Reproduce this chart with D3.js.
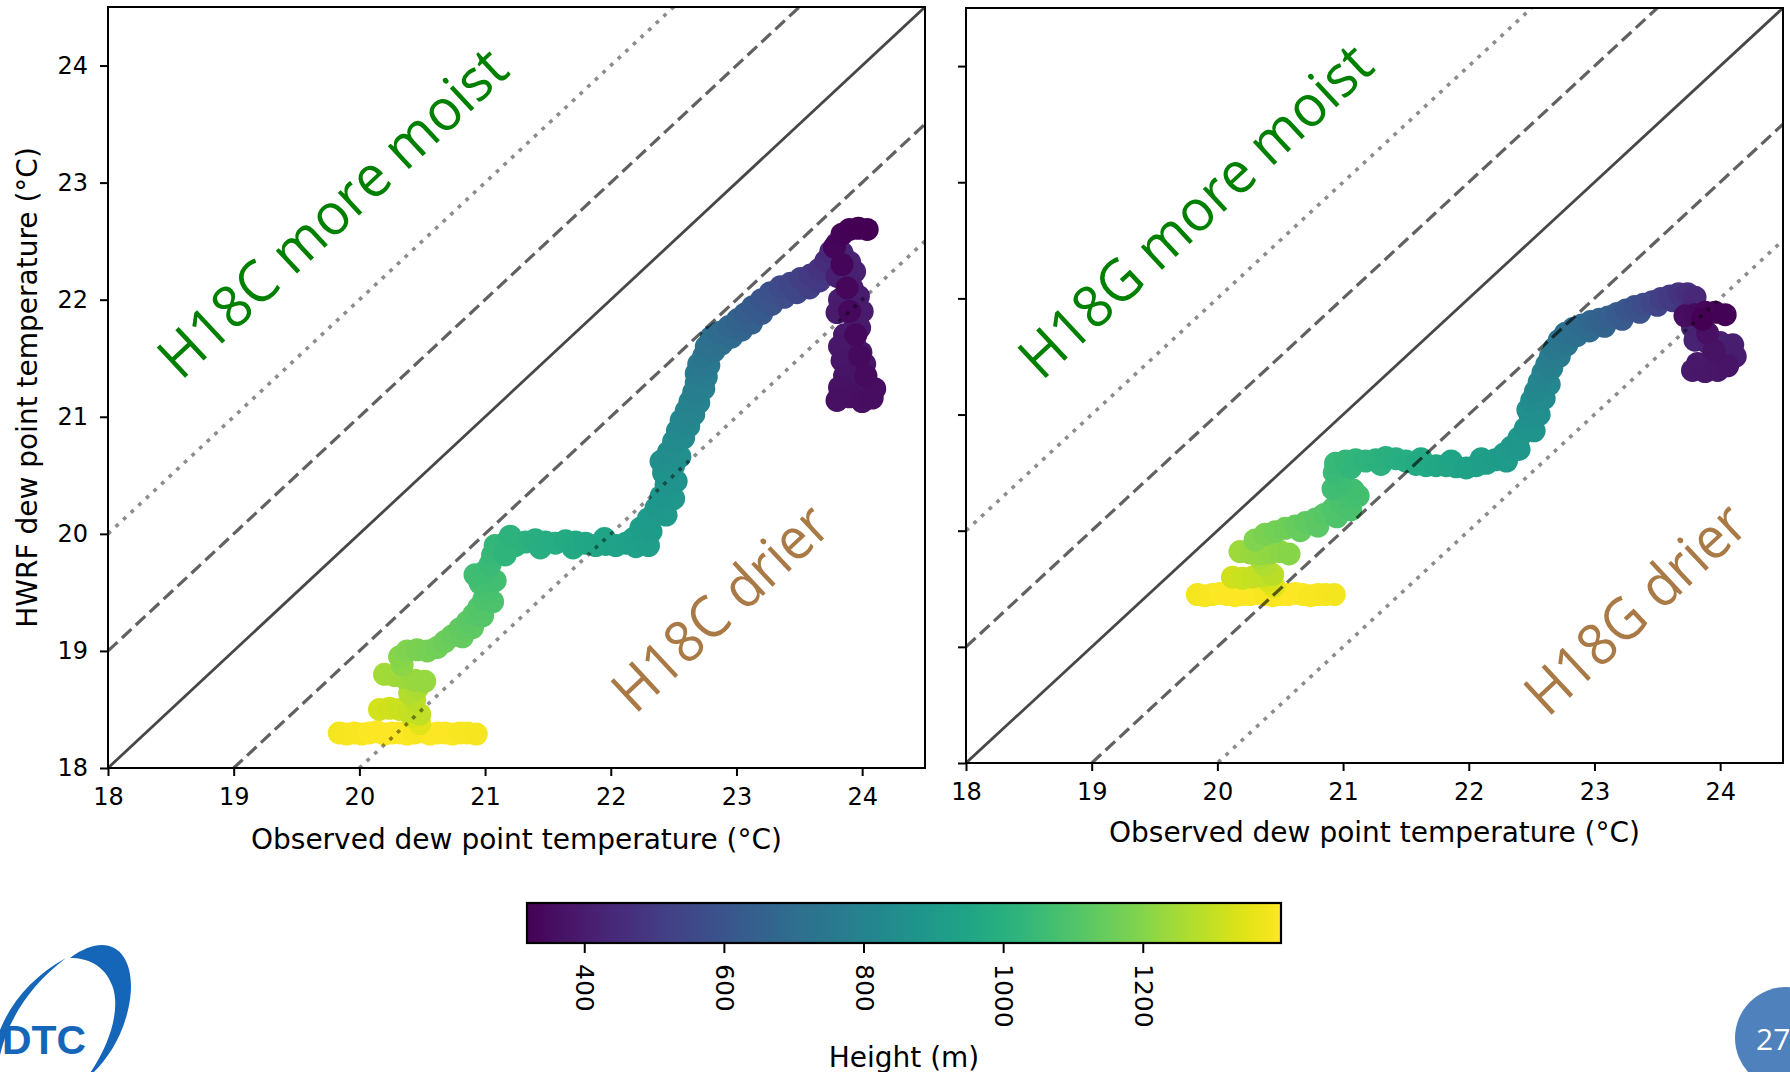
<!DOCTYPE html>
<html><head><meta charset="utf-8">
<script src="https://cdn.jsdelivr.net/npm/d3@7"></script>
<style>body{margin:0;background:#fff;overflow:hidden}</style>
</head><body>
<svg id="c" width="1790" height="1072"></svg>
<script>
// ---------- data ----------
const axisTicks = [18, 19, 20, 21, 22, 23, 24];
const axisDomain = [18, 24.5];
const heightTicks = [400, 600, 800, 1000, 1200];
const heightDomain = [318, 1398];
const refOffsets = [0, -1, 1, -2, 2];   // y = x + offset reference lines
const panelTitles = ["H18C", "H18G"];

// [observed Td, HWRF Td, height (m)] — H18C
const h18cPoints = [
 [19.84,18.30,1380],[19.90,18.29,1384],[19.96,18.30,1386],[20.02,18.29,1389],[20.08,18.30,1391],
 [20.14,18.31,1393],[20.20,18.29,1396],[20.26,18.30,1398],[20.32,18.30,1395],[20.38,18.29,1392],
 [20.44,18.30,1388],[20.50,18.31,1385],[20.56,18.29,1390],[20.62,18.30,1393],[20.68,18.30,1395],
 [20.74,18.29,1392],[20.80,18.30,1389],[20.86,18.30,1386],[20.93,18.29,1383],
 [20.48,18.38,1350],[20.42,18.44,1335],[20.16,18.50,1325],[20.24,18.51,1318],[20.32,18.50,1310],
 [20.40,18.48,1302],[20.48,18.46,1296],[20.44,18.58,1285],[20.40,18.64,1272],[20.46,18.68,1262],
 [20.20,18.80,1250],[20.28,18.79,1244],[20.36,18.77,1238],[20.44,18.75,1232],[20.52,18.74,1226],
 [20.34,18.88,1212],[20.32,18.95,1200],[20.38,19.00,1190],[20.46,19.01,1180],[20.54,19.00,1172],
 [20.62,19.03,1164],[20.68,19.08,1155],[20.74,19.13,1146],[20.82,19.12,1140],[20.80,19.19,1136],
 [20.90,19.20,1128],[20.86,19.25,1125],[20.91,19.31,1114],[20.98,19.30,1110],[20.95,19.37,1104],
 [20.99,19.44,1094],[21.06,19.42,1092],[21.02,19.51,1084],[20.96,19.58,1076],[21.08,19.60,1070],
 [20.92,19.65,1068],[21.00,19.68,1060],[21.04,19.74,1052],[21.06,19.82,1043],[21.08,19.90,1034],
 [21.16,19.92,1025],[21.24,19.90,1016],[21.16,19.82,1020],[21.20,19.98,1012],[21.32,19.93,1008],
 [21.40,19.95,1000],[21.44,19.88,996],[21.48,19.93,992],[21.56,19.92,985],[21.64,19.94,978],
 [21.70,19.88,972],[21.72,19.93,970],[21.80,19.92,963],[21.88,19.90,955],[21.95,19.96,950],
 [21.96,19.91,948],[22.04,19.90,940],[22.12,19.92,933],[22.18,19.96,928],[22.20,19.89,926],
 [22.26,19.96,920],[22.30,19.90,918],[22.24,20.05,915],[22.32,20.02,912],[22.30,20.13,905],
 [22.44,20.16,900],[22.36,20.22,895],[22.50,20.30,888],[22.40,20.32,885],[22.44,20.42,875],
 [22.52,20.45,872],[22.42,20.52,865],[22.50,20.58,860],[22.40,20.62,855],[22.55,20.66,850],
 [22.46,20.70,845],[22.50,20.79,835],[22.58,20.82,830],[22.53,20.88,825],[22.62,20.92,818],
 [22.56,20.97,815],[22.66,21.02,808],[22.60,21.05,805],[22.63,21.13,795],[22.70,21.12,796],
 [22.66,21.21,782],[22.74,21.24,780],[22.68,21.29,770],[22.76,21.34,765],[22.68,21.37,758],
 [22.78,21.44,750],[22.70,21.45,745],[22.74,21.52,732],[22.82,21.56,725],[22.76,21.60,718],
 [22.88,21.62,710],[22.80,21.68,704],[22.96,21.68,690],[22.86,21.72,690],[22.94,21.77,672],
 [23.04,21.74,668],[23.01,21.83,655],[23.12,21.80,645],[23.07,21.88,638],[23.13,21.94,620],
 [23.20,21.88,620],[23.20,22.00,600],[23.28,21.96,598],[23.27,22.06,580],[23.38,22.02,572],
 [23.35,22.11,560],[23.48,22.06,548],[23.43,22.14,540],[23.58,22.10,520],[23.51,22.18,518],
 [23.59,22.21,497],[23.66,22.16,492],[23.66,22.26,475],[23.71,22.33,455],[23.75,22.41,438],
 [23.80,22.48,428],[23.84,22.40,424],[23.90,22.32,420],[23.94,22.24,416],[23.80,22.20,414],
 [23.88,22.17,412],[23.92,22.10,408],[23.97,22.03,404],[23.82,22.00,402],[23.90,21.96,400],
 [23.80,21.89,397],[24.00,21.90,396],[23.94,21.83,394],[23.98,21.76,391],[23.86,21.70,388],
 [23.94,21.62,385],[23.82,21.60,384],[23.99,21.55,382],[23.84,21.48,379],[24.02,21.45,378],
 [23.96,21.41,376],[23.86,21.35,373],[23.96,21.28,370],[23.82,21.25,368],[24.02,21.22,367],
 [23.90,21.17,364],[23.80,21.14,361],[24.00,21.13,358],[24.08,21.16,355],[24.10,21.24,352],
 [24.03,21.35,349],[23.98,21.52,346],[23.95,21.70,343],[23.90,21.90,340],[23.88,22.10,337],
 [23.84,22.30,334],[23.78,22.45,331],[23.84,22.56,328],[23.90,22.60,325],[23.97,22.61,322],
 [24.04,22.60,320]
];

// [observed Td, HWRF Td, height (m)] — H18G
const h18gPoints = [
 [19.84,19.45,1380],[19.90,19.44,1384],[19.96,19.45,1387],[20.02,19.46,1390],[20.08,19.45,1393],
 [20.14,19.44,1396],[20.20,19.45,1398],[20.26,19.45,1395],[20.32,19.46,1392],[20.38,19.45,1389],
 [20.44,19.44,1386],[20.50,19.45,1390],[20.56,19.45,1393],[20.62,19.46,1395],[20.68,19.45,1392],
 [20.74,19.44,1389],[20.80,19.45,1386],[20.86,19.45,1383],[20.93,19.45,1380],
 [20.45,19.52,1350],[20.40,19.57,1335],[20.12,19.60,1320],[20.20,19.59,1312],[20.28,19.60,1304],
 [20.36,19.61,1296],[20.44,19.62,1288],[20.38,19.70,1270],[20.34,19.76,1255],
 [20.18,19.82,1240],[20.26,19.81,1232],[20.34,19.80,1225],[20.42,19.81,1218],[20.50,19.82,1210],
 [20.57,19.80,1202],[20.30,19.92,1190],[20.38,19.97,1180],[20.46,19.99,1170],[20.54,20.02,1160],
 [20.66,20.00,1142],[20.62,20.04,1148],[20.70,20.07,1136],[20.80,20.04,1120],[20.78,20.10,1124],
 [20.85,20.14,1112],[20.95,20.12,1098],[20.92,20.19,1100],[21.06,20.18,1086],[20.98,20.24,1090],
 [21.04,20.29,1080],[21.12,20.30,1074],[21.08,20.35,1072],[20.92,20.36,1066],[20.98,20.42,1058],
 [20.93,20.50,1050],[20.94,20.58,1042],[21.02,20.60,1034],[21.06,20.54,1030],[21.10,20.61,1026],
 [21.18,20.60,1018],[21.26,20.61,1010],[21.30,20.57,1006],[21.34,20.63,1002],[21.42,20.62,994],
 [21.50,20.60,986],[21.58,20.57,978],[21.62,20.62,975],[21.66,20.56,970],[21.74,20.56,962],
 [21.82,20.56,954],[21.86,20.60,950],[21.90,20.55,946],[21.98,20.54,938],[22.06,20.56,930],
 [22.10,20.62,925],[22.14,20.58,922],[22.21,20.61,914],[22.30,20.60,905],[22.28,20.66,906],
 [22.34,20.72,898],[22.40,20.70,895],[22.40,20.80,888],[22.45,20.88,876],[22.52,20.86,872],
 [22.49,20.96,862],[22.56,21.00,852],[22.47,21.04,850],[22.50,21.12,836],[22.60,21.14,832],
 [22.53,21.20,822],[22.64,21.26,812],[22.56,21.28,808],[22.59,21.36,794],[22.66,21.40,790],
 [22.62,21.43,780],[22.65,21.50,766],[22.72,21.50,765],[22.68,21.57,752],[22.78,21.60,740],
 [22.72,21.64,738],[22.77,21.70,722],[22.86,21.68,712],[22.83,21.74,706],[22.90,21.77,690],
 [22.96,21.72,688],[22.97,21.80,674],[23.08,21.76,660],[23.04,21.82,658],[23.11,21.84,642],
 [23.22,21.82,625],[23.18,21.87,625],[23.25,21.90,606],[23.36,21.88,588],[23.32,21.93,586],
 [23.39,21.95,565],[23.50,21.94,540],[23.46,21.97,543],[23.53,22.00,520],[23.62,21.98,500],
 [23.60,22.02,498],[23.67,22.04,476],[23.74,22.04,458],[23.80,22.01,444],
 [23.76,21.88,430],[23.78,21.75,425],[23.80,21.64,420],[23.90,21.62,416],[24.00,21.62,412],
 [24.10,21.60,408],[24.12,21.50,404],[24.02,21.48,400],[23.92,21.46,396],[23.82,21.44,392],
 [23.78,21.38,388],[23.88,21.37,384],[23.98,21.38,380],[24.06,21.42,376],
 [23.95,21.55,370],[23.90,21.70,362],[23.72,21.85,352],[23.80,21.86,345],[23.88,21.88,338],
 [23.96,21.88,330],[24.04,21.86,324],[23.86,21.82,320]
];

// ---------- drawing ----------
const svg = d3.select("#c");
const FONT = "'DejaVu Sans', sans-serif";
const ANNOT = "'Open Sans', 'Noto Sans', sans-serif";
const color = d3.scaleSequential(d3.interpolateViridis).domain(heightDomain);

const panels = [
  {x0:108, x1:925, y0:7, y1:768, pts:h18cPoints, name:panelTitles[0], yLabels:true,
   moist:{cx:331, cy:211, len:452}, drier:{cx:719, cy:606, len:272}, xlabY:839},
  {x0:966, x1:1783, y0:8, y1:763, pts:h18gPoints, name:panelTitles[1], yLabels:false,
   moist:{cx:1194, cy:209, len:458}, drier:{cx:1634, cy:607, len:278}, xlabY:832}
];

panels.forEach((p, i) => {
  const x = d3.scaleLinear().domain(axisDomain).range([p.x0, p.x1]);
  const y = d3.scaleLinear().domain(axisDomain).range([p.y1, p.y0]);
  const g = svg.append("g");
  const clipId = "clip" + i;
  g.append("clipPath").attr("id", clipId).append("rect")
    .attr("x", p.x0).attr("y", p.y0).attr("width", p.x1 - p.x0).attr("height", p.y1 - p.y0);

  // scatter
  g.append("g").attr("clip-path", `url(#${clipId})`)
    .selectAll("circle").data(p.pts).join("circle")
    .attr("cx", d => x(d[0])).attr("cy", d => y(d[1])).attr("r", 11.5)
    .attr("fill", d => color(d[2]));

  // reference lines (drawn over the scatter, translucent black)
  const lg = g.append("g").attr("clip-path", `url(#${clipId})`);
  refOffsets.forEach(k => {
    const style = k === 0 ? {op:0.72, w:2.8, dash:null}
               : Math.abs(k) === 1 ? {op:0.62, w:3.2, dash:"13,6"}
               : {op:0.45, w:3.6, dash:"3.8,6.6"};
    lg.append("line")
      .attr("x1", x(axisDomain[0])).attr("y1", y(axisDomain[0] + k))
      .attr("x2", x(axisDomain[1])).attr("y2", y(axisDomain[1] + k))
      .attr("stroke", "#000").attr("stroke-opacity", style.op)
      .attr("stroke-width", style.w)
      .attr("stroke-dasharray", style.dash);
  });

  // axes
  const xa = g.append("g").attr("transform", `translate(0,${p.y1})`)
    .call(d3.axisBottom(x).tickValues(axisTicks).tickSize(8).tickPadding(12).tickFormat(d3.format("d")));
  const ya = g.append("g").attr("transform", `translate(${p.x0},0)`)
    .call(d3.axisLeft(y).tickValues(axisTicks).tickSize(8).tickPadding(12)
      .tickFormat(p.yLabels ? d3.format("d") : () => ""));
  [xa, ya].forEach(a => {
    a.select(".domain").remove();
    a.selectAll("line").attr("stroke", "#000").attr("stroke-width", 2);
    a.selectAll("text").attr("font-family", FONT).attr("font-size", 24).attr("fill", "#000");
  });

  // frame
  g.append("rect").attr("x", p.x0).attr("y", p.y0)
    .attr("width", p.x1 - p.x0).attr("height", p.y1 - p.y0)
    .attr("fill", "none").attr("stroke", "#000").attr("stroke-width", 2);

  // axis labels
  g.append("text").attr("x", (p.x0 + p.x1) / 2).attr("y", p.xlabY)
    .attr("text-anchor", "middle").attr("dominant-baseline", "central")
    .attr("font-family", FONT).attr("font-size", 28).text("Observed dew point temperature (°C)");
  if (p.yLabels) {
    g.append("text").attr("transform", `translate(27,${(p.y0 + p.y1) / 2}) rotate(-90)`)
      .attr("text-anchor", "middle").attr("dominant-baseline", "central")
      .attr("font-family", FONT).attr("font-size", 28).text("HWRF dew point temperature (°C)");
  }

  // annotations
  g.append("text").attr("transform", `translate(${p.moist.cx},${p.moist.cy}) rotate(-43)`)
    .attr("text-anchor", "middle").attr("dominant-baseline", "central")
    .attr("font-family", ANNOT).attr("font-size", 58).attr("fill", "#008000")
    .attr("textLength", p.moist.len).attr("lengthAdjust", "spacingAndGlyphs")
    .text(p.name + " more moist");
  g.append("text").attr("transform", `translate(${p.drier.cx},${p.drier.cy}) rotate(-43)`)
    .attr("text-anchor", "middle").attr("dominant-baseline", "central")
    .attr("font-family", ANNOT).attr("font-size", 58).attr("fill", "#a97a46")
    .attr("textLength", p.drier.len).attr("lengthAdjust", "spacingAndGlyphs")
    .text(p.name + " drier");
});

// ---------- colorbar ----------
const cb = {x0:527, x1:1281, y0:903, y1:943};
const cbScale = d3.scaleLinear().domain(heightDomain).range([cb.x0, cb.x1]);
const grad = svg.append("defs").append("linearGradient").attr("id", "vir")
  .attr("x1", "0%").attr("x2", "100%").attr("y1", "0%").attr("y2", "0%");
d3.range(0, 1.0001, 0.02).forEach(t => {
  grad.append("stop").attr("offset", (t * 100) + "%")
    .attr("stop-color", color(heightDomain[0] + t * (heightDomain[1] - heightDomain[0])));
});
svg.append("rect").attr("x", cb.x0).attr("y", cb.y0)
  .attr("width", cb.x1 - cb.x0).attr("height", cb.y1 - cb.y0)
  .attr("fill", "url(#vir)").attr("stroke", "#000").attr("stroke-width", 2.2);
const cba = svg.append("g").attr("transform", `translate(0,${cb.y1})`)
  .call(d3.axisBottom(cbScale).tickValues(heightTicks).tickSize(10).tickPadding(0)
    .tickFormat(d3.format("d")));
cba.select(".domain").remove();
cba.selectAll("line").attr("stroke", "#000").attr("stroke-width", 2);
cba.selectAll("text").attr("font-family", FONT).attr("font-size", 25).attr("fill", "#000")
  .attr("dy", null).attr("y", null)
  .attr("transform", "translate(0,21) rotate(90)")
  .attr("text-anchor", "start").attr("dominant-baseline", "central");
svg.append("text").attr("x", (cb.x0 + cb.x1) / 2).attr("y", 1057)
  .attr("text-anchor", "middle").attr("dominant-baseline", "central")
  .attr("font-family", FONT).attr("font-size", 28).text("Height (m)");

// ---------- slide decorations ----------
const logo = svg.append("g");
logo.append("path")
  .attr("d", "M 70 958 C 115 925, 140 960, 128 1010 C 120 1045, 100 1068, 85 1080 C 108 1050, 122 1010, 112 985 C 104 965, 88 958, 70 958 Z")
  .attr("fill", "#1565b8");
logo.append("path")
  .attr("d", "M 66 958 C 30 985, 8 1020, 0 1055 L 0 1030 C 12 1000, 35 975, 66 958 Z")
  .attr("fill", "#1565b8");
logo.append("text").attr("x", 2).attr("y", 1040).attr("dominant-baseline", "central")
  .attr("font-family", "'Liberation Sans', sans-serif").attr("font-weight", "bold")
  .attr("font-size", 40).attr("fill", "#1565b8").attr("textLength", 84)
  .attr("lengthAdjust", "spacingAndGlyphs").text("DTC");
svg.append("circle").attr("cx", 1786).attr("cy", 1038).attr("r", 51).attr("fill", "#4f81bd");
svg.append("text").attr("x", 1756).attr("y", 1038).attr("dominant-baseline", "central")
  .attr("font-family", "'Open Sans', sans-serif").attr("font-size", 30).attr("fill", "#fff").text("27");
</script>
</body></html>
